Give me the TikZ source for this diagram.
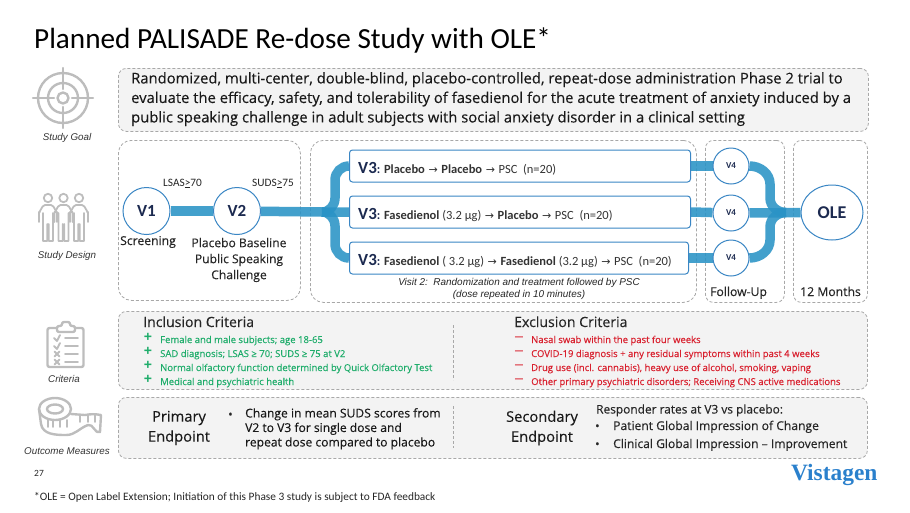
\documentclass[tikz,border=0pt]{standalone}
\usepackage{fontspec}
\setmainfont{Carlito}
\newfontfamily\bodyfont[FakeBold=0.25]{Open Sans}
\newfontfamily\labelfont{Liberation Sans}
\newfontfamily\logofont{Liberation Serif}
\newfontfamily\arrowfont{DejaVu Sans}
\usetikzlibrary{backgrounds,shapes.geometric,calc}
\definecolor{trunkblue}{HTML}{2A93C6}
\definecolor{ringblue}{HTML}{3A86C4}
\definecolor{visitnavy}{HTML}{1C2A50}
\definecolor{iconstroke}{HTML}{BDBDBD}
\definecolor{panelgray}{HTML}{F3F3F3}
\definecolor{dashgray}{HTML}{A8A8A8}
\definecolor{okgreen}{HTML}{1FAD6B}
\definecolor{badred}{HTML}{D9202E}
\definecolor{logoblue}{HTML}{2A80CC}
\newcommand{\fs}[2]{\fontsize{#1}{#2}\selectfont}
\newcommand{\goesto}{\hspace{3.6pt}{\arrowfont\mdseries\fs{11}{14}→}\hspace{3.6pt}}
\tikzset{
  panel/.style={draw=dashgray, dash pattern=on 3pt off 2pt, line width=0.8pt, rounded corners=8pt, inner sep=0pt, anchor=north west},
  visit/.style={circle, draw=ringblue, fill=white, line width=1pt, inner sep=0pt, text=visitnavy},
  armbox/.style={draw=ringblue, fill=white, line width=1pt, rounded corners=3pt, anchor=west, minimum height=32pt, inner sep=0pt, text=black!80},
  trunk/.style={draw=trunkblue, line width=9.5pt, opacity=0.88},
  tag/.style={inner sep=0pt, anchor=base west, text=black!85},
  icontag/.style={inner sep=0pt, font=\labelfont\itshape\fs{9.8}{11}, text=black!80},
  icon/.style={draw=iconstroke, line width=2.4pt, line cap=round, line join=round},
  thinicon/.style={icon, line width=1.8pt},
  plusmark/.style={inner sep=0pt, anchor=north, align=center, text=okgreen, font=\labelfont\bfseries\fs{14}{14}},
  minusmark/.style={inner sep=0pt, text=badred, font=\bfseries\fs{11}{11}},
  incl/.style={tag, text=okgreen, font=\bodyfont\fs{9.5}{11}},
  excl/.style={tag, text=badred, font=\bodyfont\fs{9.5}{11}},
  divider/.style={draw=dashgray, dash pattern=on 3pt off 2pt, line width=0.8pt}
}
\begin{document}
\begin{tikzpicture}[x=1pt,y=-1pt]
  \useasboundingbox (0,0) rectangle (910,512);

  % Title
  \node (title) [tag, text=black, font=\fs{29.2}{31}] at (34,48) {Planned PALISADE Re-dose Study with OLE*};

  % Visits
  \node (v1) [visit, minimum size=47pt, font=\bfseries\fs{17}{18}] at (146.5,211) {V1};
  \node (v2) [visit, minimum size=47pt, font=\bfseries\fs{17}{18}] at (237,211) {V2};
  \node (armA) [armbox, minimum width=341pt] at (349,166) {};
  \node (armB) [armbox, minimum width=341pt] at (349,212) {};
  \node (armC) [armbox, minimum width=339pt] at (349,258) {};
  \node (v4a) [visit, minimum size=36pt, font=\bfseries\fs{9}{10}] at (731,166) {V4};
  \node (v4b) [visit, minimum size=36pt, font=\bfseries\fs{9}{10}] at (731,213) {V4};
  \node (v4c) [visit, minimum size=36pt, font=\bfseries\fs{9}{10}] at (731,258) {V4};
  \node (ole) [visit, ellipse, minimum width=62pt, minimum height=55pt, font=\bfseries\fs{18}{18}] at (832,212.5) {OLE};
  \coordinate (splitL) at (322,212);
  \coordinate (splitR) at (786,212.5);
  \coordinate (riseLa) at (335,198);
  \coordinate (riseLb) at (335,180);
  \coordinate (fallLa) at (335,226);
  \coordinate (fallLb) at (335,244);
  \coordinate (dropRa) at (770,184);
  \coordinate (dropRb) at (770,198);
  \coordinate (liftRa) at (770,240);
  \coordinate (liftRb) at (770,227);

  % Panels and connectors go underneath
  \begin{scope}[on background layer]
    \node (goalpanel) [panel, fill=panelgray, minimum width=750pt, minimum height=63pt] at (118,68) {};
    \node (screenpanel) [panel, fill=white, rounded corners=13pt, minimum width=182pt, minimum height=160pt] at (118,140) {};
    \node (treatpanel) [panel, fill=white, rounded corners=13pt, minimum width=386pt, minimum height=162pt] at (310,140) {};
    \node (followpanel) [panel, fill=white, minimum width=79pt, minimum height=162pt] at (705,140) {};
    \node (monthspanel) [panel, fill=white, minimum width=74pt, minimum height=162pt] at (793,140) {};
    \node (criteriapanel) [panel, fill=panelgray, minimum width=749pt, minimum height=78pt] at (118,311) {};
    \node (endpointpanel) [panel, fill=panelgray, minimum width=749pt, minimum height=61pt] at (118,397) {};

    \draw[trunk] (v1) -- (v2);
    \draw[trunk] (v2) -- (splitL) -- (armB.west);
    \draw[trunk] (splitL) to [out=0, in=-90] (riseLa) -- (riseLb) to [out=90, in=180] (armA.west);
    \draw[trunk] (splitL) to [out=0, in=90] (fallLa) -- (fallLb) to [out=-90, in=180] (armC.west);
    \draw[trunk] (armA.east) -- (v4a);
    \draw[trunk] (armB.east) -- (v4b);
    \draw[trunk] (armC.east) -- (v4c);
    \draw[trunk] (v4b) -- (ole);
    \draw[trunk] (v4a) to [out=0, in=90] (dropRa) -- (dropRb) to [out=-90, in=180] (splitR);
    \draw[trunk] (v4c) to [out=0, in=-90] (liftRa) -- (liftRb) to [out=90, in=180] (splitR);
  \end{scope}

  % Study goal text
  \node (goaltext) [inner sep=0pt, anchor=north west, align=left, text=black!90, font=\bodyfont\fs{14.8}{19.5}] at (131,72)
    {Randomized, multi-center, double-blind, placebo-controlled, repeat-dose administration Phase 2 trial to\\
     evaluate the efficacy, safety, and tolerability of fasedienol for the acute treatment of anxiety induced by a\\
     public speaking challenge in adult subjects with social anxiety disorder in a clinical setting};

  % Visit labels
  \node (lsas) [tag, font=\fs{11.3}{12}] at (163,186) {LSAS\underline{>}70};
  \node (suds) [tag, font=\fs{11.3}{12}] at (252,186) {SUDS\underline{>}75};
  \node (screening) [tag, font=\bodyfont\fs{12.2}{13}] at (120,245) {Screening};
  \node (baseline) [inner sep=0pt, align=center, text=black!85, font=\bodyfont\fs{12.1}{16}] at (239,260)
    {Placebo Baseline\\Public Speaking\\Challenge};

  % Arm texts
  \node (textA) [tag] at (358,173) {\fs{17}{18}\bfseries\color{visitnavy}V3\fs{12.5}{14}: \color{black!80}Placebo\goesto Placebo\goesto \mdseries PSC\ \ (n=20)};
  \node (textB) [tag] at (358,219) {\fs{17}{18}\bfseries\color{visitnavy}V3\fs{12.5}{14}: \color{black!80}Fasedienol \mdseries(3.2 μg)\goesto \bfseries Placebo\goesto \mdseries PSC\ \ (n=20)};
  \node (textC) [tag] at (358,265) {\fs{17}{18}\bfseries\color{visitnavy}V3\fs{12.5}{14}: \color{black!80}Fasedienol \mdseries( 3.2 μg)\goesto \bfseries Fasedienol \mdseries(3.2 μg)\goesto PSC\ \ (n=20)};
  \node (visitnote) [inner sep=0pt, align=center, text=black!85, font=\labelfont\itshape\fs{9.95}{12.5}] at (519,289)
    {Visit 2:\ \ Randomization and treatment followed by PSC\\(dose repeated in 10 minutes)};
  \node (followup) [tag, font=\bodyfont\fs{12.2}{13}] at (710,296) {Follow-Up};
  \node (months) [tag, font=\bodyfont\fs{12.2}{13}] at (800,296) {12 Months};

  % Criteria
  \node (inclhead) [tag, font=\bodyfont\fs{14.1}{15}] at (143,327) {Inclusion Criteria};
  \node (plusmarks) [plusmark] at (148,333) {+\\+\\+\\+};
  \foreach \name/\ypos/\txt in {a/343/Female and male subjects; age 18-65,
      b/357/{SAD diagnosis; LSAS ≥ 70; SUDS ≥ 75 at V2},
      c/371/Normal olfactory function determined by Quick Olfactory Test,
      d/385/Medical and psychiatric health} {
    \node (incl\name) [incl] at (160,\ypos) {\txt};
  }
  \node (exclhead) [tag, font=\bodyfont\fs{14.1}{15}] at (514,327) {Exclusion Criteria};
  \foreach \name/\ypos/\txt in {a/343/Nasal swab within the past four weeks,
      b/357/COVID-19 diagnosis + any residual symptoms within past 4 weeks,
      c/371/{Drug use (incl. cannabis), heavy use of alcohol, smoking, vaping},
      d/385/Other primary psychiatric disorders; Receiving CNS active medications} {
    \node (minus\name) [minusmark] at (519,\ypos-4.5) {\textemdash};
    \node (excl\name) [excl] at (531,\ypos) {\txt};
  }
  \coordinate (divAtop) at (453,325);
  \coordinate (divAbot) at (453,380);
  \draw[divider] (divAtop) -- (divAbot);

  % Endpoints
  \node (primary) [inner sep=0pt, align=center, text=black!90, font=\bodyfont\fs{14.7}{20}] at (179,428) {Primary\\Endpoint};
  \node (primarybullet) [tag, font=\bodyfont\fs{12}{14}] at (228,418.5) {•};
  \node (primarytext) [inner sep=0pt, anchor=north west, align=left, text=black!90, font=\bodyfont\fs{12.1}{14.5}] at (245,408)
    {Change in mean SUDS scores from\\V2 to V3 for single dose and\\repeat dose compared to placebo};
  \node (secondary) [inner sep=0pt, align=center, text=black!90, font=\bodyfont\fs{14.7}{20}] at (542,428) {Secondary\\Endpoint};
  \node (responder) [tag, font=\bodyfont\fs{11.9}{14}] at (596,413.5) {Responder rates at V3 vs placebo:};
  \node (bulletA) [tag, font=\bodyfont\fs{11.7}{14}] at (595,430) {•};
  \node (changetext) [tag, font=\bodyfont\fs{12.1}{14}] at (613,430) {Patient Global Impression of Change};
  \node (bulletB) [tag, font=\bodyfont\fs{11.7}{14}] at (595,448) {•};
  \node (improvetext) [tag, font=\bodyfont\fs{12.1}{14}] at (613,448) {Clinical Global Impression – Improvement};
  \coordinate (divBtop) at (453,406);
  \coordinate (divBbot) at (453,448);
  \draw[divider] (divBtop) -- (divBbot);

  % Footer
  \node (pagenum) [tag, font=\fs{9.5}{11}] at (34,476) {27};
  \node (footnote) [tag, font=\fs{11.35}{13}] at (34,500) {*OLE = Open Label Extension; Initiation of this Phase 3 study is subject to FDA feedback};
  \node (logo) [tag, text=logoblue, font=\logofont\bfseries\fs{23.4}{25}] at (791,480.5) {Vistagen};

  % Icon captions
  \node (goaltag) [icontag] at (67,138) {Study Goal};
  \node (designtag) [icontag] at (67,256) {Study Design};
  \node (criteriatag) [icontag] at (64,379) {Criteria};
  \node (outcometag) [icontag] at (67,451) {Outcome Measures};

  % Target icon
  \draw[icon] (63,98) circle (25);
  \draw[icon] (63,98) circle (15);
  \draw[icon] (63,98) circle (5.5);
  \foreach \a in {0,90,180,270}
    \draw[icon] ($(63,98)+(\a:9)$) -- ($(63,98)+(\a:30)$);

  % People icon
  \foreach \x in {48,63.5,79} {
    \draw[thinicon] (\x,198) circle (4.2);
    \draw[thinicon] (\x-9,222) -- (\x-9,212) to [out=-90, in=180] (\x-3,205) -- (\x+3,205) to [out=0, in=-90] (\x+9,212) -- (\x+9,222)
      (\x-5,213) -- (\x-5,241) -- (\x-0.8,241) -- (\x-0.8,224) (\x+0.8,224) -- (\x+0.8,241) -- (\x+5,241) -- (\x+5,213);
  }

  % Clipboard icon
  \draw[icon, rounded corners=2pt] (57,328) -- (47.5,328) -- (47.5,367) -- (83.5,367) -- (83.5,328) -- (75,328);
  \draw[icon, rounded corners=2pt, fill=white] (57,332) -- (57,326) -- (62,326) -- (62,322) -- (70,322) -- (70,326) -- (75,326) -- (75,332) -- cycle;
  \foreach \y in {338,346} {
    \draw[thinicon] (54,\y) -- (57,\y+3) -- (60,\y-3);
    \draw[thinicon] (65,\y) -- (78,\y);
  }
  \foreach \y in {354,362} {
    \draw[thinicon] (54.5,\y-2.5) -- (59.5,\y+2.5) (59.5,\y-2.5) -- (54.5,\y+2.5);
    \draw[thinicon] (65,\y) -- (78,\y);
  }

  % Tape measure icon
  \draw[icon] (55,409) ellipse (16 and 11);
  \draw[icon] (55,409) ellipse (8 and 4.5);
  \draw[icon] (39,409) -- (41,424) to [out=-80, in=180] (66,435) to [out=0, in=200] (88,425) to [out=20, in=-150] (100,432) -- (101,415) to [out=170, in=10] (85,415) -- (71,414);
  \foreach \x in {48,53,60,67}
    \draw[thinicon] (\x,420) -- (\x,427);
  \foreach \x in {80,88,95}
    \draw[thinicon] (\x,415) -- (\x,422);
\end{tikzpicture}
\end{document}
